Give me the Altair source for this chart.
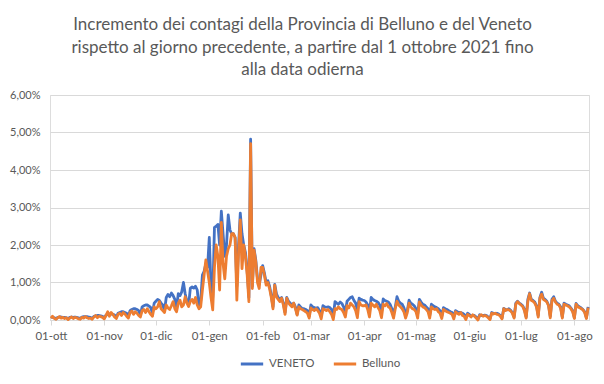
import altair as alt
import pandas as pd

# Daily increment (%), 1 Oct 2021 -> 9 Aug 2022
veneto_ott = [0.08,0.07,0.06,0.03,0.07,0.08,0.08,0.07,0.07,0.06, 0.03,0.07,0.08,0.07,0.08,0.07,0.06,0.03,0.08,0.09, 0.09,0.09,0.08,0.07,0.04,0.10,0.11,0.12,0.12,0.11,0.10]
veneto_nov = [0.05,0.13,0.15,0.16,0.16,0.15,0.13,0.07,0.18,0.20, 0.22,0.22,0.20,0.18,0.10,0.25,0.28,0.30,0.30,0.28, 0.25,0.13,0.35,0.38,0.40,0.40,0.37,0.33,0.18,0.45]
veneto_dic = [0.50,0.55,0.52,0.45,0.40,0.25,0.60,0.68,0.62,0.72, 0.65,0.55,0.35,0.70,0.65,0.75,1.00,0.70,0.50,0.40, 0.85,0.88,0.85,0.90,0.80,0.36,0.50,1.20,1.30,1.50,1.40]
veneto_gen = [2.20,0.90,0.60,2.47,2.50,2.55,2.00,2.90,2.30,1.70, 2.00,2.80,2.40,2.30,2.30,2.20,0.90,2.00,2.85,2.30, 2.00,1.80,1.30,0.60,4.82,0.90,1.90,1.60,1.10,0.95,1.20]
veneto_feb = [1.45,1.25,1.00,1.05,0.90,0.65,0.35,0.95,0.70,0.60, 0.55,0.60,0.45,0.20,0.60,0.50,0.45,0.40,0.45,0.35, 0.15,0.40,0.35,0.30,0.30,0.28,0.25,0.10]
veneto_mar = [0.40,0.35,0.33,0.32,0.33,0.25,0.10,0.38,0.35,0.34, 0.35,0.33,0.28,0.10,0.49,0.45,0.42,0.48,0.44,0.35, 0.20,0.50,0.55,0.60,0.62,0.52,0.45,0.25,0.58,0.55,0.53]
veneto_apr = [0.52,0.48,0.40,0.20,0.60,0.55,0.52,0.50,0.47,0.40, 0.20,0.56,0.52,0.50,0.48,0.42,0.30,0.18,0.35,0.62, 0.50,0.45,0.42,0.33,0.18,0.25,0.53,0.45,0.42,0.38]
veneto_mag = [0.30,0.15,0.55,0.48,0.42,0.40,0.35,0.30,0.12,0.42, 0.38,0.35,0.33,0.30,0.25,0.10,0.33,0.30,0.28,0.25, 0.22,0.20,0.08,0.25,0.22,0.20,0.20,0.18,0.15,0.05,0.18]
veneto_giu = [0.15,0.10,0.12,0.12,0.08,0.02,0.14,0.12,0.12,0.13, 0.12,0.08,0.03,0.20,0.18,0.17,0.18,0.16,0.12,0.05, 0.31,0.28,0.27,0.30,0.26,0.20,0.08,0.45,0.50,0.45]
veneto_lug = [0.42,0.38,0.28,0.08,0.55,0.72,0.55,0.52,0.48,0.38, 0.12,0.60,0.74,0.58,0.55,0.50,0.40,0.10,0.55,0.62, 0.50,0.45,0.42,0.35,0.08,0.45,0.42,0.40,0.38,0.32,0.25]
veneto_ago = [0.06,0.44,0.38,0.35,0.32,0.28,0.22,0.06,0.35]

belluno_ott = [0.05,0.10,0.04,0.02,0.06,0.09,0.05,0.07,0.04,0.06, 0.01,0.05,0.08,0.04,0.07,0.06,0.03,0.02,0.07,0.05, 0.09,0.06,0.04,0.05,0.02,0.08,0.12,0.06,0.10,0.09,0.07]
belluno_nov = [0.03,0.12,0.22,0.10,0.20,0.15,0.08,0.04,0.15,0.18, 0.12,0.20,0.16,0.10,0.05,0.20,0.24,0.15,0.22,0.18, 0.12,0.08,0.25,0.28,0.20,0.30,0.22,0.15,0.10,0.35]
belluno_dic = [0.30,0.35,0.49,0.30,0.25,0.20,0.40,0.32,0.28,0.38, 0.49,0.30,0.22,0.45,0.53,0.35,0.40,0.62,0.45,0.36, 0.50,0.55,0.45,0.60,0.40,0.30,0.35,0.80,1.20,1.60,1.30]
belluno_gen = [1.00,0.60,0.27,1.40,2.00,1.70,0.80,2.60,1.50,1.10, 1.70,1.90,2.00,2.30,2.30,2.20,0.53,1.80,2.67,1.37, 2.00,1.70,1.20,0.49,4.70,0.84,1.86,1.55,1.00,0.84,1.40]
belluno_feb = [1.40,1.20,0.93,1.00,0.84,0.60,0.30,0.93,0.62,0.55, 0.49,0.58,0.40,0.15,0.58,0.45,0.40,0.35,0.45,0.30, 0.13,0.35,0.30,0.28,0.25,0.22,0.18,0.05]
belluno_mar = [0.32,0.28,0.25,0.30,0.25,0.18,0.03,0.30,0.28,0.25, 0.28,0.22,0.15,0.01,0.30,0.28,0.35,0.30,0.28,0.20, 0.08,0.38,0.32,0.45,0.40,0.35,0.25,0.06,0.49,0.40,0.38]
belluno_apr = [0.38,0.40,0.28,0.08,0.45,0.40,0.35,0.42,0.33,0.25, 0.06,0.42,0.38,0.44,0.35,0.32,0.20,0.05,0.30,0.50, 0.40,0.35,0.30,0.22,0.05,0.20,0.45,0.35,0.30,0.28]
belluno_mag = [0.22,0.05,0.48,0.40,0.35,0.33,0.28,0.22,0.05,0.35, 0.30,0.28,0.30,0.22,0.18,0.04,0.28,0.25,0.22,0.20, 0.18,0.15,0.03,0.22,0.18,0.15,0.20,0.12,0.10,0.01,0.15]
belluno_giu = [0.12,0.08,0.14,0.10,0.05,0.00,0.12,0.14,0.10,0.12, 0.10,0.06,0.01,0.18,0.16,0.18,0.15,0.14,0.10,0.03, 0.30,0.25,0.28,0.27,0.24,0.18,0.05,0.42,0.49,0.44]
belluno_lug = [0.40,0.36,0.25,0.05,0.50,0.70,0.52,0.50,0.45,0.35, 0.08,0.58,0.69,0.55,0.52,0.48,0.38,0.06,0.52,0.58, 0.48,0.42,0.40,0.32,0.05,0.42,0.40,0.38,0.35,0.30,0.22]
belluno_ago = [0.04,0.42,0.35,0.33,0.30,0.27,0.20,0.04,0.33]

mesi = ["gen", "feb", "mar", "apr", "mag", "giu", "lug", "ago", "set", "ott", "nov", "dic"]
tick_mesi = [(2021, 10), (2021, 11), (2021, 12), (2022, 1), (2022, 2), (2022, 3),
             (2022, 4), (2022, 5), (2022, 6), (2022, 7), (2022, 8)]
y_ticks = [0, 0.01, 0.02, 0.03, 0.04, 0.05, 0.06]
serie = ["VENETO", "Belluno"]
colori = ["#4472C4", "#ED7D31"]
titolo = ["Incremento dei contagi della Provincia di Belluno e del  Veneto",
          "rispetto al giorno precedente, a partire dal 1 ottobre 2021 fino",
          "alla data odierna"]

veneto = (veneto_ott + veneto_nov + veneto_dic + veneto_gen + veneto_feb + veneto_mar
          + veneto_apr + veneto_mag + veneto_giu + veneto_lug + veneto_ago)
belluno = (belluno_ott + belluno_nov + belluno_dic + belluno_gen + belluno_feb + belluno_mar
           + belluno_apr + belluno_mag + belluno_giu + belluno_lug + belluno_ago)
n = len(veneto)
date = list(pd.date_range("2021-10-01", periods=n, freq="D").strftime("%Y-%m-%d"))

df = pd.DataFrame({
    "data": date + date,
    "serie": [serie[0]] * n + [serie[1]] * len(belluno),
    "valore": [v / 100 for v in veneto] + [v / 100 for v in belluno],
})

font = "Lato"
grey = "#595959"
label_expr_x = "'01-' + " + str(mesi) + "[utcmonth(datum.value)]"

chart = alt.Chart(df).mark_line(strokeWidth=2.8, strokeJoin="round").encode(
    x=alt.X("data:T",
            scale=alt.Scale(type="utc", domain=[
                alt.DateTime(year=2021, month=9, date=30, hours=12, utc=True),
                alt.DateTime(year=2022, month=8, date=9, hours=12, utc=True)]),
            axis=alt.Axis(title=None, grid=False, labelFlush=False,
                          values=[alt.DateTime(year=y, month=m, date=1, utc=True) for y, m in tick_mesi],
                          labelExpr=label_expr_x, domainColor="#d9d9d9", tickColor="#d9d9d9",
                          tickSize=5, labelPadding=5, labelColor=grey, labelFont=font,
                          labelFontSize=11.5)),
    y=alt.Y("valore:Q",
            scale=alt.Scale(domain=[0, 0.06], nice=False),
            axis=alt.Axis(title=None, values=y_ticks, domain=False, ticks=False,
                          labelExpr="replace(format(datum.value, '.2%'), '.', ',')",
                          gridColor="#d9d9d9", labelPadding=10, labelColor=grey,
                          labelFont=font, labelFontSize=11)),
    color=alt.Color("serie:N", sort=serie,
                    scale=alt.Scale(domain=serie, range=colori),
                    legend=alt.Legend(title=None, orient="none", legendX=189, legendY=256,
                                      direction="horizontal", symbolType="stroke",
                                      symbolStrokeWidth=3, symbolSize=500,
                                      labelFont=font, labelFontSize=11.5, labelColor=grey,
                                      columnPadding=12, labelOffset=4, padding=0)),
).properties(
    width=539,
    height=225,
    title=alt.TitleParams(text=titolo, font=font, fontSize=17, fontWeight="normal",
                          color=grey, lineHeight=22.5, anchor="middle", dx=-17, offset=10),
    autosize=alt.AutoSizeParams(type="none"),
    padding={"left": 42, "top": 87, "right": 7, "bottom": 60},
).configure_view(stroke=None).configure(background="white")

chart.save("out.html", embed_options={"renderer": "svg", "actions": False})
